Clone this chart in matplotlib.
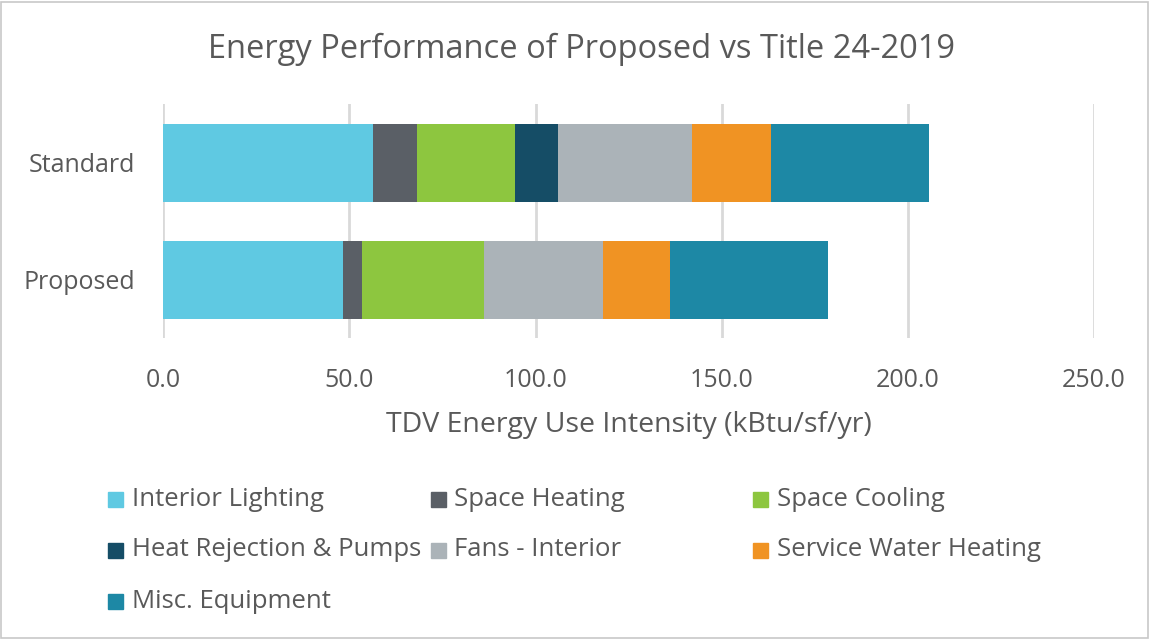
import numpy as np
import matplotlib.pyplot as plt
from matplotlib.patches import Rectangle

# stacked TDV energy use by end use (kBtu/sf/yr)
cases = ["Standard", "Proposed"]
end_uses = ["Interior Lighting", "Space Heating", "Space Cooling",
            "Heat Rejection & Pumps", "Fans - Interior",
            "Service Water Heating", "Misc. Equipment"]
standard = [56.2, 11.9, 26.3, 11.7, 35.8, 21.2, 42.6]
proposed = [48.3, 5.1, 32.7, 0.0, 32.0, 17.9, 42.6]
colors = ["#5FC9E2", "#5A5F66", "#8DC63F", "#154D66",
          "#ABB3B8", "#F09323", "#1D88A5"]
xticks = [0, 50, 100, 150, 200, 250]

plt.rcParams["font.family"] = ["Open Sans", "DejaVu Sans"]
txt = "#595959"

fig = plt.figure(figsize=(11.51, 6.39), dpi=100)
ax = fig.add_axes([0.1419, 0.4703, 0.8086, 0.3662])

vals = np.array([standard, proposed])
left = np.zeros(len(cases))
ypos = np.arange(len(cases))
for j, name in enumerate(end_uses):
    ax.barh(ypos, vals[:, j], left=left, height=0.667, color=colors[j],
            label=name, zorder=3)
    left += vals[:, j]

ax.set_ylim(1.5, -0.5)
ax.set_xlim(0, 250)
ax.set_yticks(ypos)
ax.set_yticklabels(cases, fontsize=18, color=txt)
ax.set_xticks(xticks)
ax.set_xticklabels([f"{v:.1f}" for v in xticks], fontsize=18, color=txt)
ax.tick_params(axis="x", length=0, pad=21)
ax.tick_params(axis="y", length=0, pad=20)
ax.xaxis.grid(True, color="#D9D9D9", linewidth=2, zorder=0)
for s in ax.spines.values():
    s.set_visible(False)
ax.set_xlabel("TDV Energy Use Intensity (kBtu/sf/yr)", fontsize=20.5,
              color=txt, labelpad=13)

fig.text(0.505, 0.922, "Energy Performance of Proposed vs Title 24-2019",
         ha="center", va="center", fontsize=23.5, color=txt)

# legend laid out in rows like the Excel original
for i, name in enumerate(end_uses):
    row, col = divmod(i, 3)
    x0 = 108 + col * 322.5
    yc = 499 + row * 51
    fig.patches.append(Rectangle((x0 / 1151, 1 - (yc + 7.5) / 639), 15 / 1151,
                                 15 / 639, transform=fig.transFigure,
                                 color=colors[i], figure=fig))
    fig.text((x0 + 24) / 1151, 1 - yc / 639, name, ha="left", va="center",
             fontsize=18.5, color=txt)

fig.patches.append(Rectangle((0.001, 0.002), 0.996, 0.995,
                             transform=fig.transFigure, fill=False,
                             edgecolor="#C8C8C8", linewidth=1.2, figure=fig))

fig.savefig("out.png", dpi=100)
